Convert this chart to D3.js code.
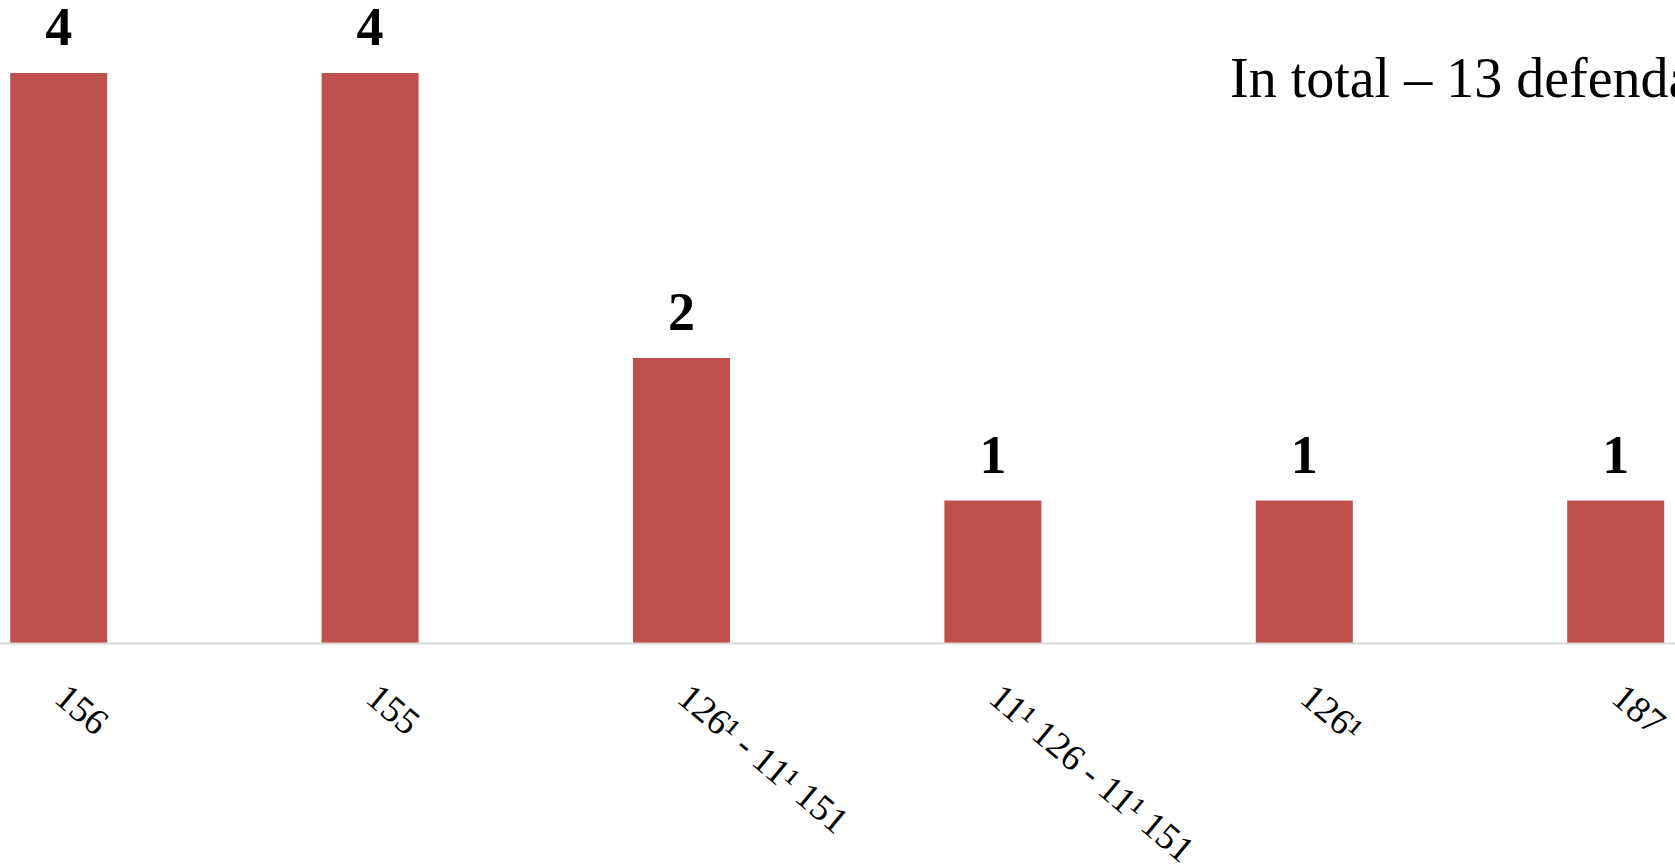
<!DOCTYPE html>
<html>
<head>
<meta charset="utf-8">
<script src="https://cdn.jsdelivr.net/npm/d3@7"></script>
<style>
  html, body { margin: 0; padding: 0; background: #ffffff; overflow: hidden; }
  svg { display: block; overflow: hidden; }
</style>
</head>
<body>
<svg id="chart" width="1675" height="866"></svg>
<script>
const categories = ["156", "155", "126¹ - 11¹ 151", "11¹ 126 - 11¹ 151", "126¹", "187"];
const values = [4, 4, 2, 1, 1, 1];
const titleText = "In total – 13 defendants";

const W = 1675, H = 866;
const svg = d3.select("#chart");

const x = d3.scaleBand()
  .domain(categories)
  .range([-97, 1771.4])
  .paddingInner(0.6885)
  .paddingOuter(0.6885 / 2);

const y = d3.scaleLinear()
  .domain([0, 4])
  .range([643, 73]);

const serif = "'Liberation Serif', 'Times New Roman', serif";

// bars
svg.append("g").selectAll("rect")
  .data(values)
  .join("rect")
  .attr("x", (d, i) => x(categories[i]))
  .attr("y", d => y(d))
  .attr("width", x.bandwidth())
  .attr("height", d => y(0) - y(d))
  .attr("fill", "#C0504D");

// x axis
const xAxis = svg.append("g")
  .attr("transform", `translate(0,${y(0)})`)
  .call(d3.axisBottom(x).tickSize(0).tickPadding(0));
xAxis.select(".domain").attr("stroke", "#D9D9D9").attr("stroke-width", 2);
xAxis.selectAll(".tick text")
  .attr("font-family", serif)
  .attr("font-size", 37)
  .attr("fill", "#000")
  .attr("text-anchor", "start")
  .attr("dy", null)
  .attr("y", 0)
  .attr("transform", "translate(-6,58) rotate(40)");

// value labels
svg.append("g").selectAll("text")
  .data(values)
  .join("text")
  .attr("x", (d, i) => x(categories[i]) + x.bandwidth() / 2)
  .attr("y", d => y(d) - 28)
  .attr("text-anchor", "middle")
  .attr("font-family", serif)
  .attr("font-weight", "bold")
  .attr("font-size", 54)
  .attr("fill", "#000")
  .text(d => d);

// title
svg.append("text")
  .attr("x", 1230)
  .attr("y", 97)
  .attr("font-family", serif)
  .attr("font-size", 56)
  .attr("fill", "#000")
  .text(titleText);
</script>
</body>
</html>
